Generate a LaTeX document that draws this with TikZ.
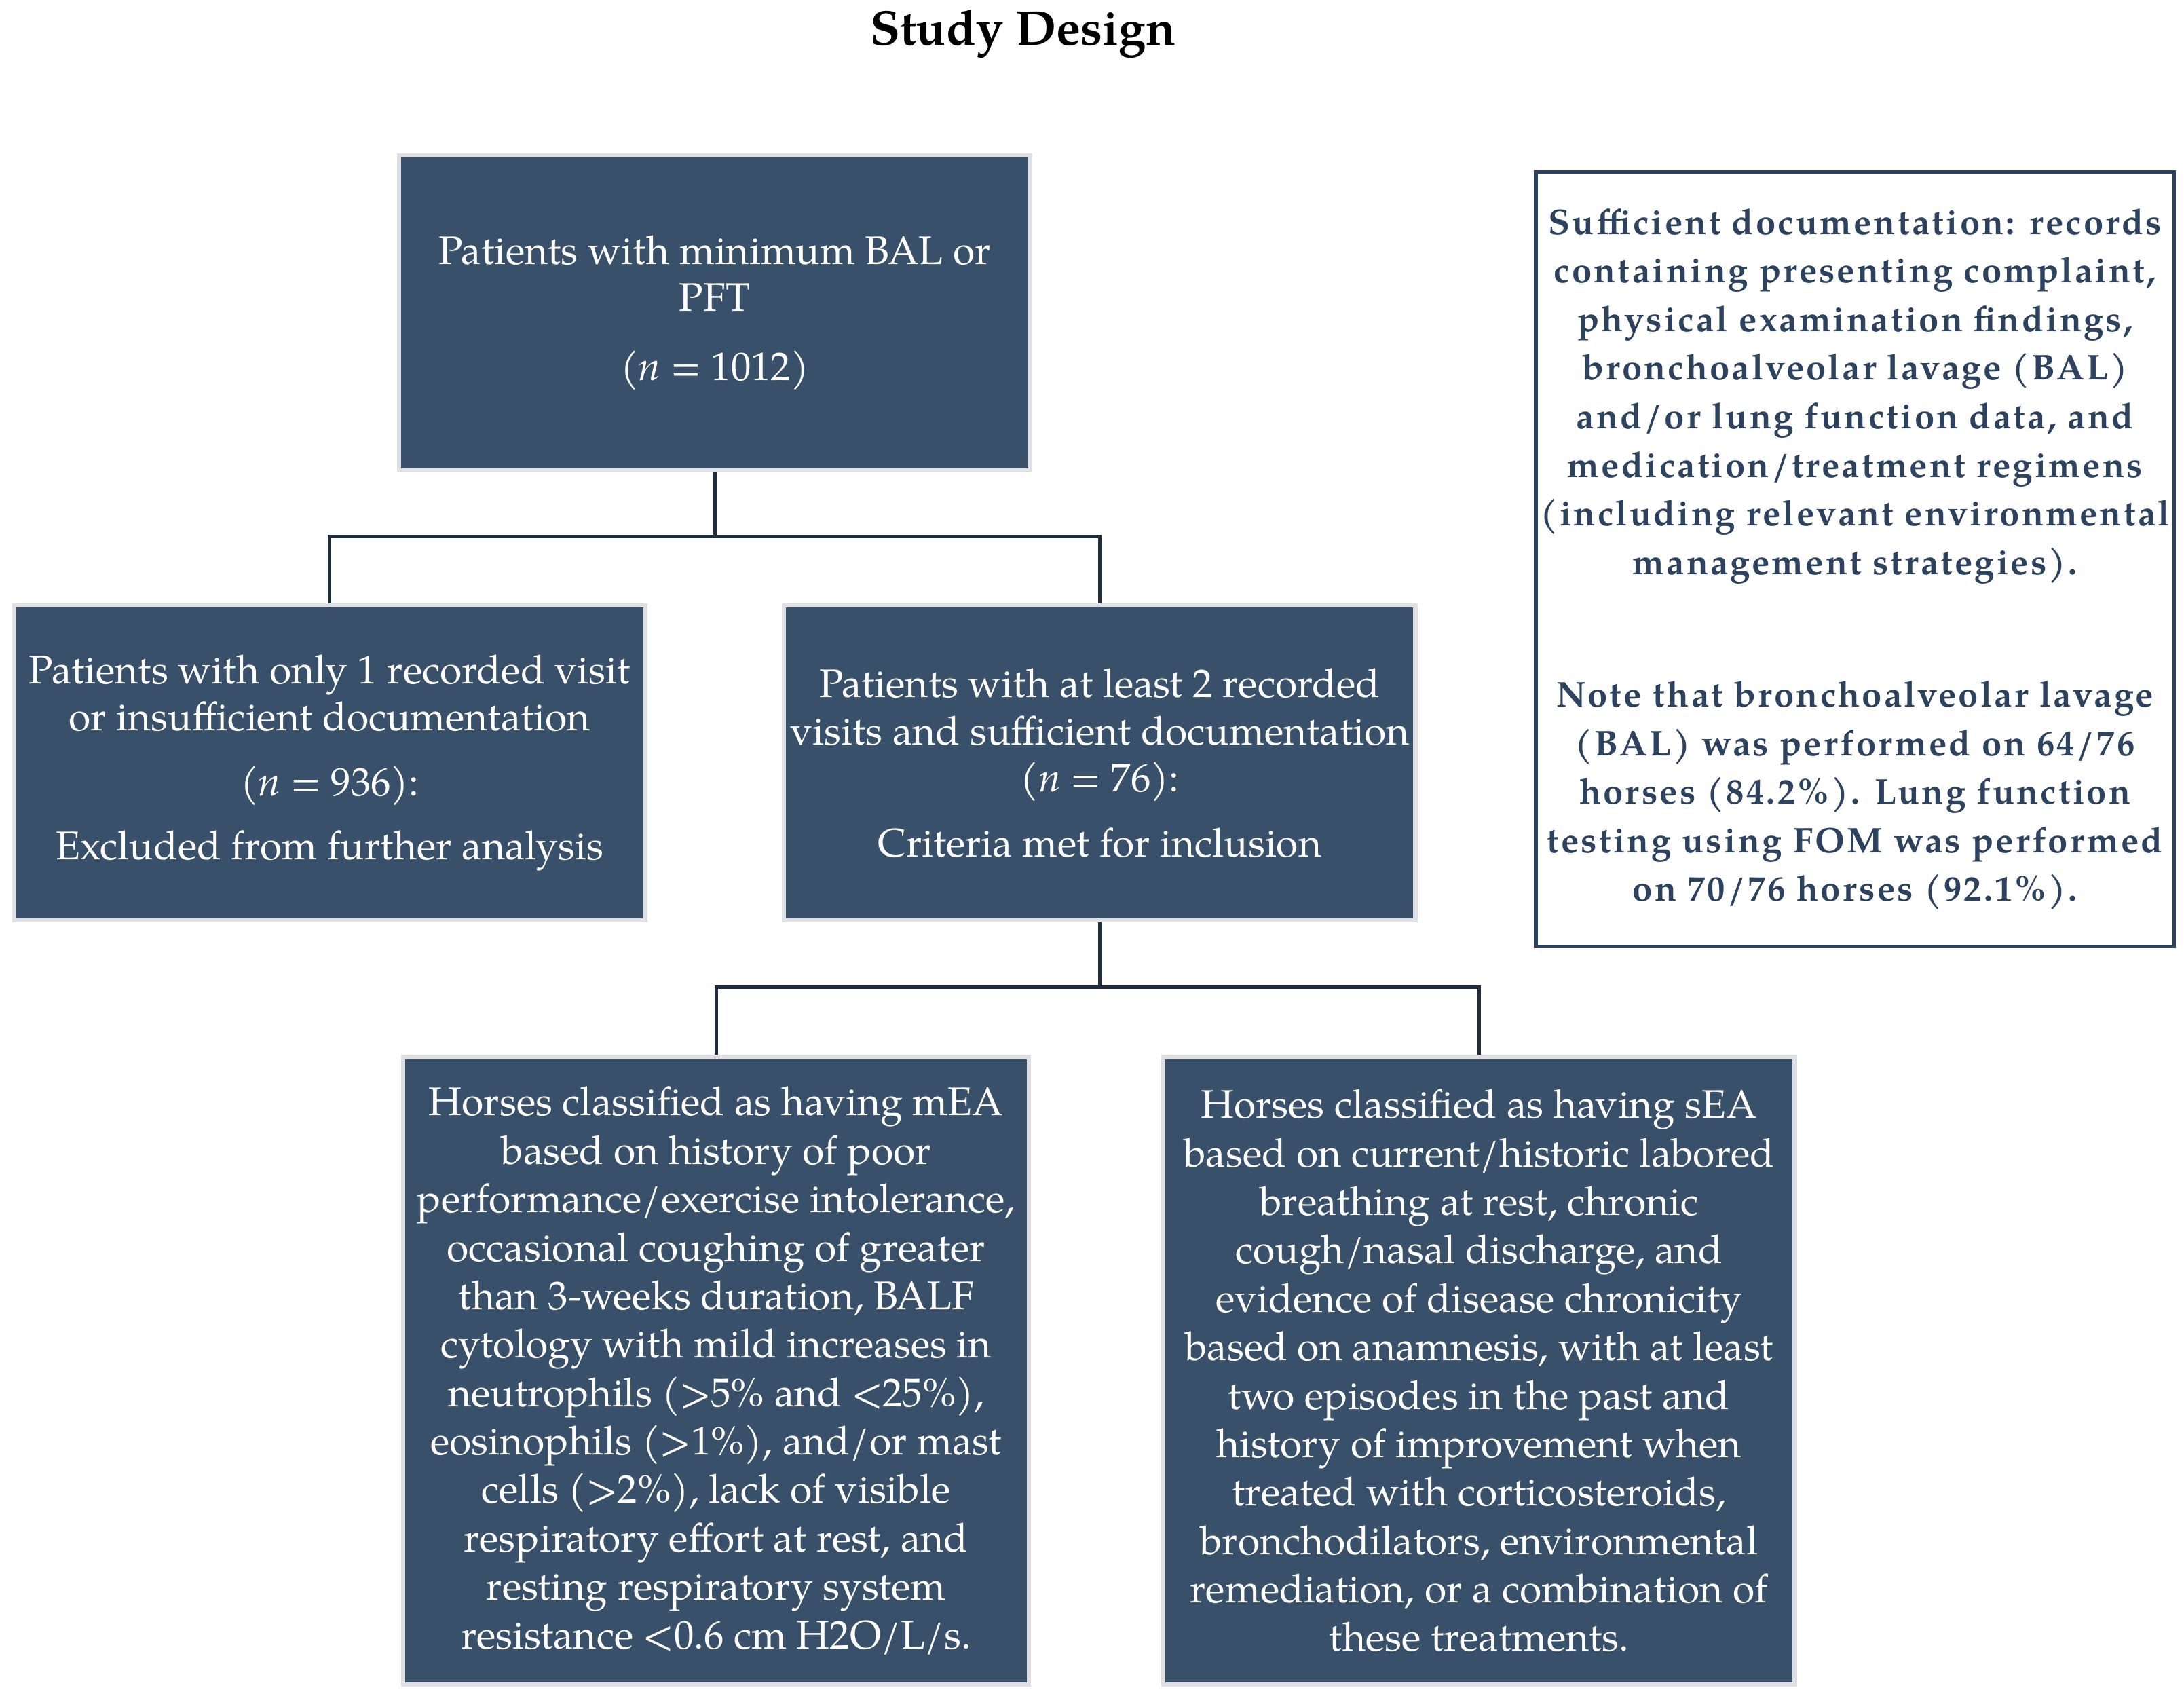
\documentclass[tikz,border=0pt]{standalone}
\usepackage{fontspec}
\setmainfont{texgyrepagella}[Extension=.otf, UprightFont=*-regular, BoldFont=*-bold, ItalicFont=*-italic, BoldItalicFont=*-bolditalic]
\newfontfamily\notefont{texgyrepagella}[Extension=.otf, UprightFont=*-bold, LetterSpace=6]
\usetikzlibrary{positioning}

\definecolor{boxfill}{RGB}{57,80,106}
\definecolor{boxedge}{RGB}{222,224,228}
\definecolor{linknavy}{RGB}{30,44,62}
\definecolor{notenavy}{RGB}{44,66,94}

\begin{document}
\begin{tikzpicture}[x=1pt, y=-1pt, every node/.style={align=center, inner sep=0pt},
  darkbox/.style={draw=boxedge, line width=3pt, fill=boxfill, text=white, minimum width=451pt, minimum height=225pt, font=\fontsize{28.5}{33.5}\selectfont},
  tallbox/.style={darkbox, minimum height=448pt, font=\fontsize{28.5}{34.6}\selectfont},
  notebox/.style={draw=notenavy, line width=2.5pt, fill=white, text=notenavy, minimum width=456pt, minimum height=553pt, font=\notefont\fontsize{25.5}{34.7}\selectfont},
  link/.style={draw=linknavy, line width=2.5pt}]
\useasboundingbox (0,0) rectangle (1560,1208.5);
\node (title) at (731,32) [anchor=base, font=\bfseries\fontsize{35}{40}\selectfont] {Study Design};
\node[darkbox] (screened) at (510.5,223.5) {Patients with minimum BAL or\\PFT\\[16pt](\textit{n} = 1012)};
\node[darkbox] (excluded) at (235.5,545) {Patients with only 1 recorded visit\\or insufficient documentation\\[13pt](\textit{n} = 936):\\[12pt]Excluded from further analysis};
\node[darkbox] (included) at (785.5,545) {Patients with at least 2 recorded\\visits and sufficient documentation\\(\textit{n} = 76):\\[13pt]Criteria met for inclusion};
\node[tallbox, minimum width=447pt] (mildEA) at (511.5,979) {Horses classified as having mEA\\based on history of poor\\performance/exercise intolerance,\\occasional coughing of greater\\than 3-weeks duration, BALF\\cytology with mild increases in\\neutrophils (>5\% and <25\%),\\eosinophils (>1\%), and/or mast\\cells (>2\%), lack of visible\\respiratory effort at rest, and\\resting respiratory system\\resistance <0.6 cm H2O/L/s.};
\node[tallbox] (severeEA) at (1056.5,979) {Horses classified as having sEA\\based on current/historic labored\\breathing at rest, chronic\\cough/nasal discharge, and\\evidence of disease chronicity\\based on anamnesis, with at least\\two episodes in the past and\\history of improvement when\\treated with corticosteroids,\\bronchodilators, environmental\\remediation, or a combination of\\these treatments.};
\node[notebox] (docnote) at (1325,399.5) {Sufficient documentation: records\\containing presenting complaint,\\physical examination findings,\\bronchoalveolar lavage (BAL)\\and/or lung function data, and\\medication/treatment regimens\\(including relevant environmental\\management strategies).\\[60pt]Note that bronchoalveolar lavage\\(BAL) was performed on 64/76\\horses (84.2\%). Lung function\\testing using FOM was performed\\on 70/76 horses (92.1\%).};
\coordinate (fork1) at (510.5,383);
\coordinate (fork2) at (785.5,705);
\draw[link] (screened.south) -- (fork1);
\draw[link] (fork1) -| (excluded.north);
\draw[link] (fork1) -| (included.north);
\draw[link] (included.south) -- (fork2);
\draw[link] (fork2) -| (mildEA.north);
\draw[link] (fork2) -| (severeEA.north);
\end{tikzpicture}
\end{document}
